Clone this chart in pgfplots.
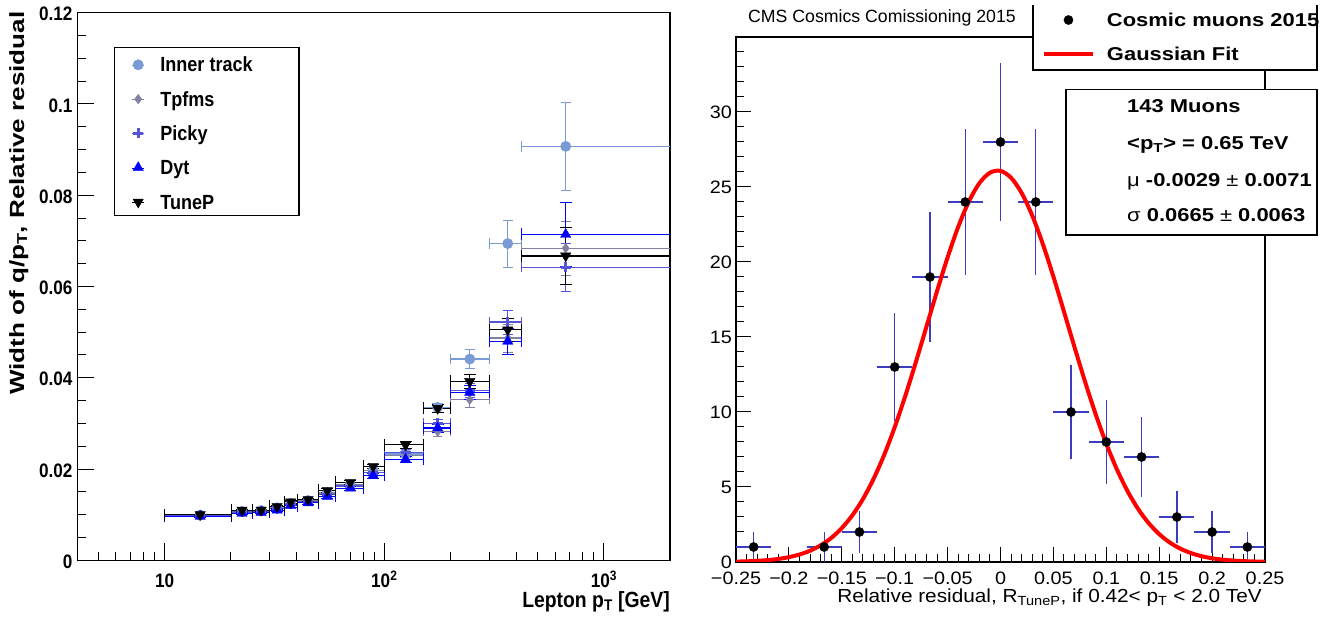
\documentclass[border=0pt]{standalone}
\usepackage{pgfplots}
\pgfplotsset{compat=1.18}
\usepackage{pgfplotstable}
\usepackage{fontspec}
\setmainfont{Liberation Sans}
\newfontfamily\rfont[FakeStretch=1.1]{Liberation Sans}
\newfontfamily\rbfont[FakeStretch=1.18]{Liberation Sans}
\newfontfamily\yfont[FakeStretch=1.27]{Liberation Sans}
\newfontfamily\nfont[FakeStretch=0.88]{Liberation Sans}
\definecolor{cIT}{RGB}{122,155,213}
\definecolor{cTF}{RGB}{130,130,160}
\definecolor{cPK}{RGB}{85,85,215}
\definecolor{cDY}{RGB}{0,0,255}
\definecolor{cTP}{RGB}{0,0,0}
\definecolor{cerr}{RGB}{60,60,190}

\pgfplotstableread{
x exm exp yIT eIT yTF eTF yPK ePK yDY eDY yTP eTP
14.5 4.5 5.5 0.0099 0.0002 0.0099 0.0002 0.0099 0.0002 0.0096 0.0002 0.0100 0.0002
22.5 2.5 2.5 0.0107 0.0002 0.0107 0.0002 0.0106 0.0002 0.0103 0.0002 0.0110 0.0002
27.5 2.5 2.5 0.0109 0.0002 0.0108 0.0002 0.0108 0.0002 0.0105 0.0002 0.0110 0.0002
32.5 2.5 2.5 0.0115 0.0003 0.0114 0.0003 0.0113 0.0003 0.0110 0.0003 0.0118 0.0003
37.5 2.5 2.5 0.0125 0.0003 0.0124 0.0003 0.0123 0.0003 0.0120 0.0003 0.0128 0.0003
45 5 5 0.0131 0.0003 0.0131 0.0003 0.0129 0.0003 0.0126 0.0003 0.0133 0.0003
55 5 5 0.0148 0.0004 0.0147 0.0004 0.0145 0.0004 0.0140 0.0004 0.0153 0.0004
70 10 10 0.0166 0.0004 0.0165 0.0004 0.0163 0.0004 0.0158 0.0004 0.0171 0.0004
89 9 11 0.0197 0.0005 0.0196 0.0005 0.0193 0.0005 0.0186 0.0005 0.0206 0.0005
125 25 25 0.0233 0.0007 0.0229 0.0007 0.0236 0.0007 0.0221 0.0007 0.0253 0.0007
175 25 25 0.0335 0.0010 0.0282 0.0010 0.0300 0.0009 0.0290 0.0009 0.0333 0.0009
245 45 55 0.0441 0.0021 0.0352 0.0017 0.0372 0.0015 0.0368 0.0015 0.0392 0.0015
365 65 55 0.0694 0.0051 0.0487 0.0030 0.0522 0.0026 0.0480 0.0029 0.0505 0.0025
670 250 1330 0.0907 0.0096 0.0684 0.0060 0.0642 0.0052 0.0714 0.0070 0.0667 0.0062
}\lefttab

\pgfplotstableread{
x ex y ey
-0.23333 0.016667 1 1
-0.16667 0.016667 1 1
-0.13333 0.016667 2 1.414
-0.1 0.016667 13 3.606
-0.06667 0.016667 19 4.359
-0.03333 0.016667 24 4.899
0 0.016667 28 5.292
0.03333 0.016667 24 4.899
0.06667 0.016667 10 3.162
0.1 0.016667 8 2.828
0.13333 0.016667 7 2.646
0.16667 0.016667 3 1.732
0.2 0.016667 2 1.414
0.23333 0.016667 1 1
}\righttab

\pgfplotstableread{
x y
-0.25 0.0262
-0.24 0.0453
-0.23 0.0766
-0.22 0.1266
-0.21 0.2046
-0.20 0.3232
-0.19 0.4985
-0.18 0.7527
-0.17 1.1106
-0.16 1.603
-0.15 2.260
-0.14 3.116
-0.13 4.201
-0.12 5.538
-0.11 7.135
-0.10 8.989
-0.09 11.070
-0.08 13.328
-0.07 15.687
-0.06 18.053
-0.05 20.310
-0.04 22.338
-0.03 24.020
-0.02 25.251
-0.01 25.952
0.00 26.075
0.01 25.613
0.02 24.597
0.03 23.094
0.04 21.197
0.05 19.021
0.06 16.687
0.07 14.312
0.08 12.000
0.09 9.837
0.10 7.883
0.11 6.177
0.12 4.732
0.13 3.543
0.14 2.594
0.15 1.856
0.16 1.299
0.17 0.888
0.18 0.594
0.19 0.389
0.20 0.248
0.21 0.155
0.22 0.0948
0.23 0.0566
0.24 0.0330
0.25 0.0189
}\fittab

\begin{document}
\begin{tikzpicture}
\useasboundingbox (0,0) rectangle (1344bp,626bp);

% ---------------- left panel ----------------
\begin{axis}[
  at={(77.3bp,65.7bp)}, anchor=south west, scale only axis,
  width=592.7bp, height=547.6bp,
  xmode=log, xmin=4, xmax=2000, ymin=0, ymax=0.12,
  axis line style={line width=1.3bp},
  tick style={line width=1bp, black},
  tick align=inside, xtick pos=bottom, ytick pos=left,
  major tick length=17bp, minor tick length=8.5bp,
  xtick={10,100,1000},
  xticklabels={10,10\textsuperscript{2},10\textsuperscript{3}},
  minor xtick={4,5,6,7,8,9,20,30,40,50,60,70,80,90,200,300,400,500,600,700,800,900},
  ytick={0,0.02,0.04,0.06,0.08,0.1,0.12},
  yticklabels={0,0.02,0.04,0.06,0.08,0.1,0.12},
  minor y tick num=3,
  xticklabel style={font=\nfont\bfseries\fontsize{19.5bp}{23bp}\selectfont, anchor=base, yshift=-27.5bp, inner sep=0pt},
  yticklabel style={font=\nfont\bfseries\fontsize{19.5bp}{23bp}\selectfont, anchor=east, xshift=-4.6bp, yshift=-1.5bp, inner sep=0pt},
  legend style={at={(axis description cs:0.0923,0.9178)}, anchor=north west, draw=none, fill=none,
    inner sep=0pt, outer sep=0pt, row sep=20.1bp, column sep=16bp,
    nodes={inner sep=0pt, text height=14.2bp, text depth=0pt, font=\nfont\bfseries\fontsize{20.5bp}{24bp}\selectfont}},
  legend cell align=left,
  legend image code/.code={\path (-6bp,0bp) -- (6bp,0bp); \draw[#1] plot coordinates {(0bp,0bp)};},
  error bars/error bar style={line width=1.2bp},
]
\addplot[only marks, color=cIT, mark=*, mark size=5.2bp,
  error bars/.cd, x dir=both, x explicit, y dir=both, y explicit]
  table[x=x, y=yIT, x error minus=exm, x error plus=exp, y error=eIT] {\lefttab};
\addlegendentry{Inner track}
\addplot[only marks, color=cTF, mark=diamond*, mark size=4.8bp,
  error bars/.cd, x dir=both, x explicit, y dir=both, y explicit]
  table[x=x, y=yTF, x error minus=exm, x error plus=exp, y error=eTF] {\lefttab};
\addlegendentry{Tpfms}
\addplot[only marks, color=cPK, mark=+, mark size=5bp, mark options={line width=2.8bp},
  error bars/.cd, x dir=both, x explicit, y dir=both, y explicit]
  table[x=x, y=yPK, x error minus=exm, x error plus=exp, y error=ePK] {\lefttab};
\addlegendentry{Picky}
\addplot[only marks, color=cDY, mark=triangle*, mark size=6bp,
  error bars/.cd, x dir=both, x explicit, y dir=both, y explicit]
  table[x=x, y=yDY, x error minus=exm, x error plus=exp, y error=eDY] {\lefttab};
\addlegendentry{Dyt}
\addplot[only marks, color=cTP, mark=triangle*, mark size=6bp, mark options={rotate=180},
  error bars/.cd, x dir=both, x explicit, y dir=both, y explicit]
  table[x=x, y=yTP, x error minus=exm, x error plus=exp, y error=eTP] {\lefttab};
\addlegendentry{TuneP}
\end{axis}
\draw[line width=1.3bp] (114.7bp,410.7bp) rectangle (299bp,578.7bp);
\node[rotate=90, anchor=base east, inner sep=0pt, font=\yfont\bfseries\fontsize{20.5bp}{24bp}\selectfont]
  at (24bp,614.5bp) {Width of q/p\textsubscript{T}, Relative residual};
\node[anchor=base east, inner sep=0pt, font=\nfont\bfseries\fontsize{22bp}{26bp}\selectfont]
  at (670bp,18.5bp) {Lepton p\textsubscript{T} [GeV]};

% ---------------- right panel ----------------
\begin{axis}[
  at={(736bp,64bp)}, anchor=south west, scale only axis,
  width=529bp, height=525bp,
  xmin=-0.25, xmax=0.25, ymin=0, ymax=35,
  axis line style={line width=1.3bp},
  tick style={line width=1bp, black},
  tick align=inside, xtick pos=bottom, ytick pos=left,
  major tick length=15bp, minor tick length=7.5bp,
  xtick={-0.25,-0.2,-0.15,-0.1,-0.05,0,0.05,0.1,0.15,0.2,0.25},
  xticklabels={−0.25,−0.2,−0.15,−0.1,−0.05,0,0.05,0.1,0.15,0.2,0.25},
  minor xtick={-0.24,-0.23,-0.22,-0.21,-0.19,-0.18,-0.17,-0.16,-0.14,-0.13,-0.12,-0.11,-0.09,-0.08,-0.07,-0.06,-0.04,-0.03,-0.02,-0.01,0.01,0.02,0.03,0.04,0.06,0.07,0.08,0.09,0.11,0.12,0.13,0.14,0.16,0.17,0.18,0.19,0.21,0.22,0.23,0.24},
  ytick={0,5,10,15,20,25,30},
  yticklabels={0,5,10,15,20,25,30},
  minor ytick={1,2,3,4,6,7,8,9,11,12,13,14,16,17,18,19,21,22,23,24,26,27,28,29,31,32,33,34},
  xticklabel style={font=\rfont\fontsize{18bp}{21bp}\selectfont, anchor=base, yshift=-23bp, inner sep=0pt},
  yticklabel style={font=\rfont\fontsize{18bp}{21bp}\selectfont, anchor=east, xshift=-4bp, inner sep=0pt},
]
\addplot[only marks, black, mark=*, mark size=4.6bp,
  error bars/.cd, x dir=both, x explicit, y dir=both, y explicit, error mark=none,
  error bar style={line width=1.3bp, cerr}]
  table[x=x, y=y, x error=ex, y error=ey] {\righttab};
\addplot[red, line width=4bp, smooth] table[x=x, y=y] {\fittab};
\end{axis}

\node[anchor=base west, inner sep=0pt, font=\fontsize{17.7bp}{21bp}\selectfont]
  at (748bp,603.3bp) {CMS Cosmics Comissioning 2015};
\node[anchor=base east, inner sep=0pt, font=\rfont\fontsize{18.9bp}{22bp}\selectfont]
  at (1262bp,24bp) {Relative residual, R\textsubscript{TuneP}, if 0.42< p\textsubscript{T} < 2.0 TeV};

% legend box (top clipped)
\fill[white] (1033bp,556bp) rectangle (1317bp,630bp);
\draw[line width=1.3bp] (1033bp,621bp) -- (1033bp,556bp) -- (1317bp,556bp) -- (1317bp,621bp);

% stats box
\draw[fill=white, line width=1.3bp] (1066bp,391bp) rectangle (1317bp,536.7bp);
\begin{scope}[every node/.style={anchor=base west, inner sep=0pt, font=\rbfont\fontsize{18.6bp}{22bp}\selectfont}]
\node at (1127bp,513.3bp) {\bfseries 143 Muons};
\node at (1127bp,476.3bp) {\bfseries <p\textsubscript{T}> = 0.65 TeV};
\node at (1127bp,439.3bp) {μ \bfseries -0.0029 \mdseries ± \bfseries 0.0071};
\node at (1127bp,404.3bp) {σ \bfseries 0.0665 \mdseries ± \bfseries 0.0063};
\end{scope}

% overlay axis carrying the legend
\begin{axis}[
  at={(736bp,64bp)}, anchor=south west, scale only axis,
  width=529bp, height=525bp, hide axis,
  xmin=0, xmax=1, ymin=0, ymax=1,
  legend style={at={(axis description cs:0.5784,1.0451)}, anchor=north west, draw=none, fill=none,
    inner sep=0pt, outer sep=0pt, row sep=20.6bp, column sep=12bp,
    nodes={inner sep=0pt, text height=13.4bp, text depth=0pt, font=\rbfont\bfseries\fontsize{18.6bp}{22bp}\selectfont}},
  legend cell align=left,
  legend image code/.code={\path (-24.5bp,0bp) -- (24.5bp,0bp); \draw[mark repeat=2,mark phase=2,#1] plot coordinates {(-24.5bp,0bp) (0bp,0bp) (24.5bp,0bp)};},
]
\addlegendimage{black, mark=*, mark size=4.6bp, draw opacity=0, mark options={draw opacity=1}}
\addlegendentry{Cosmic muons 2015}
\addlegendimage{red, line width=4bp}
\addlegendentry{Gaussian Fit}
\end{axis}
\end{tikzpicture}
\end{document}
